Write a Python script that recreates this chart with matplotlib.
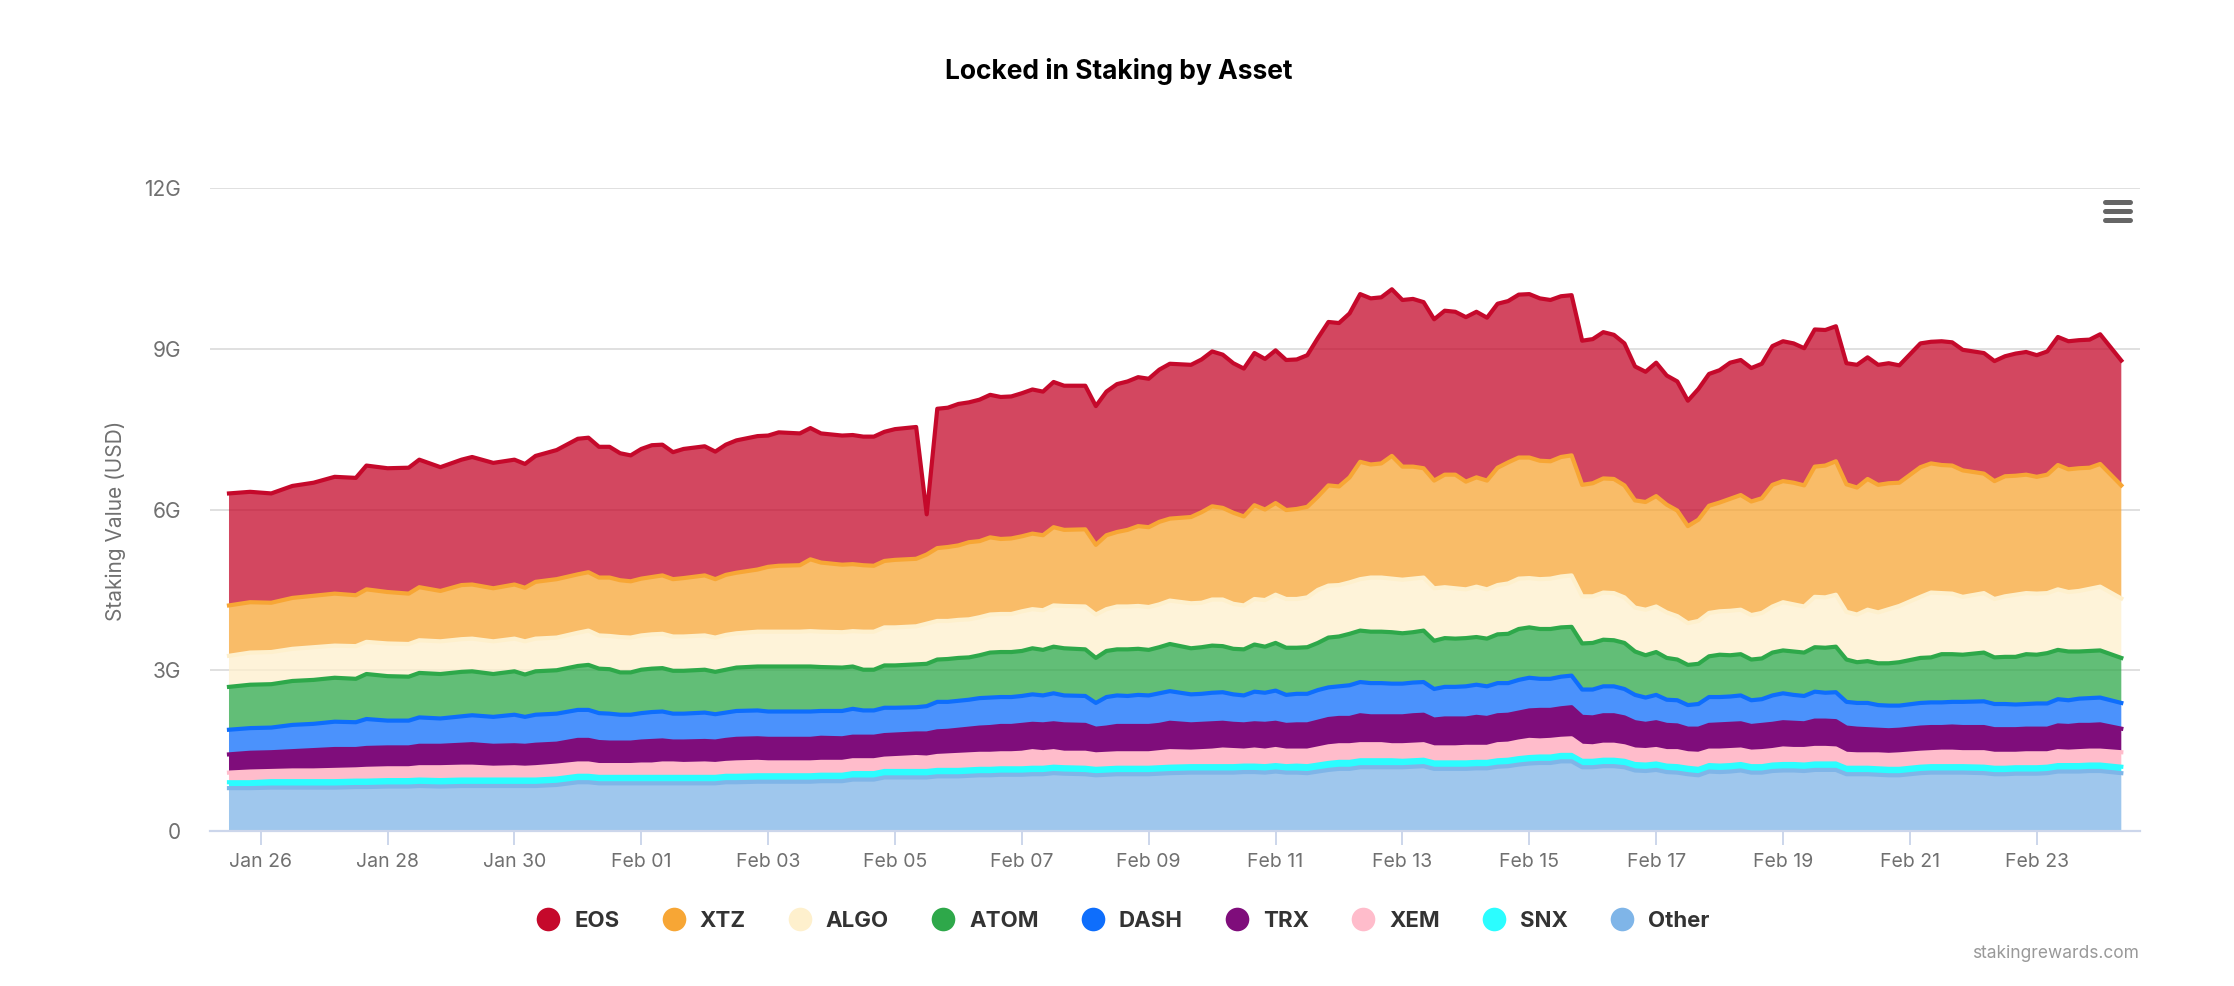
import numpy as np
import matplotlib
matplotlib.use("Agg")
import matplotlib.pyplot as plt
import matplotlib.dates as mdates
from matplotlib.lines import Line2D
from matplotlib.ticker import FixedLocator
from datetime import datetime, timedelta

plt.rcParams['font.family'] = ['Inter', 'DejaVu Sans']

start = datetime(2020, 1, 25, 12)
# sample positions, counted in 4-hour steps from the start
steps = [0,2,4,6,8,10,12,13,15,17,
 18,20,22,23,25,27,28,29,31,33,
 34,35,36,37,38,39,40,41,42,43,
 45,46,47,48,50,51,52,54,55,56,
 58,59,60,61,62,63,65,66,67,68,
 69,70,71,72,73,74,75,76,77,78,
 79,81,82,83,84,85,86,87,88,89,
 91,92,93,94,95,96,97,98,99,100,
 101,102,103,104,105,106,107,108,109,110,
 111,112,113,114,115,116,117,118,119,120,
 121,122,123,124,125,126,127,128,129,130,
 131,132,133,134,135,136,137,138,139,140,
 141,142,143,144,145,146,147,148,149,150,
 151,152,153,154,155,156,157,158,160,161,
 162,163,164,166,167,168,169,170,171,172,
 173,174,175,176,177,179]

# values in billions of USD
other = [.80,.80,.81,.81,.81,.81,.82,.82,.83,.83,
 .84,.83,.84,.84,.84,.84,.84,.84,.86,.91,
 .91,.89,.89,.89,.89,.89,.89,.89,.89,.89,
 .89,.89,.91,.91,.92,.92,.92,.92,.92,.93,
 .93,.96,.96,.96,1.00,1.00,1.00,1.00,1.02,1.02,
 1.02,1.03,1.04,1.04,1.05,1.05,1.05,1.06,1.06,1.08,
 1.07,1.06,1.04,1.05,1.06,1.06,1.06,1.06,1.07,1.08,
 1.09,1.09,1.09,1.09,1.09,1.10,1.10,1.09,1.11,1.09,
 1.09,1.08,1.11,1.14,1.16,1.16,1.19,1.19,1.19,1.19,
 1.19,1.20,1.21,1.16,1.16,1.16,1.16,1.17,1.17,1.20,
 1.21,1.24,1.26,1.27,1.27,1.30,1.30,1.19,1.19,1.21,
 1.21,1.19,1.13,1.12,1.14,1.10,1.09,1.06,1.04,1.11,
 1.10,1.11,1.13,1.09,1.09,1.12,1.13,1.13,1.12,1.14,
 1.14,1.14,1.06,1.06,1.06,1.05,1.04,1.04,1.08,1.09,
 1.09,1.09,1.09,1.08,1.06,1.06,1.07,1.07,1.07,1.08,
 1.11,1.11,1.11,1.12,1.12,1.08]

snx = [.11,.11,.12,.12,.12,.12,.12,.12,.12,.12,
 .12,.12,.12,.12,.12,.12,.12,.12,.12,.12,
 .12,.12,.12,.12,.12,.12,.12,.12,.12,.12,
 .12,.12,.12,.12,.12,.12,.12,.12,.12,.12,
 .12,.12,.12,.12,.12,.12,.12,.12,.12,.12,
 .12,.12,.12,.12,.12,.12,.12,.12,.12,.12,
 .12,.12,.12,.12,.12,.12,.12,.12,.12,.12,
 .12,.12,.12,.12,.12,.12,.12,.12,.12,.12,
 .13,.13,.13,.13,.13,.13,.13,.13,.13,.13,
 .12,.12,.12,.12,.12,.12,.12,.12,.12,.12,
 .12,.12,.12,.12,.12,.12,.12,.12,.12,.12,
 .12,.12,.12,.12,.12,.12,.12,.12,.12,.12,
 .12,.12,.12,.12,.12,.12,.12,.12,.12,.12,
 .12,.12,.12,.12,.12,.12,.12,.12,.12,.12,
 .12,.12,.12,.12,.12,.12,.12,.12,.12,.12,
 .12,.12,.12,.12,.12,.12]

xem = [.18,.20,.19,.20,.20,.21,.21,.22,.22,.22,
 .23,.24,.24,.24,.22,.23,.22,.23,.24,.23,
 .23,.22,.22,.22,.22,.23,.23,.25,.25,.24,
 .25,.24,.24,.25,.25,.24,.24,.24,.24,.24,
 .24,.24,.24,.24,.23,.24,.26,.25,.26,.27,
 .28,.28,.28,.28,.28,.28,.29,.31,.29,.29,
 .27,.28,.27,.27,.27,.27,.27,.27,.28,.29,
 .27,.28,.29,.31,.30,.28,.30,.29,.30,.29,
 .28,.29,.30,.31,.31,.31,.30,.30,.30,.28,
 .29,.29,.29,.28,.28,.28,.29,.28,.28,.30,
 .30,.31,.32,.30,.31,.30,.31,.28,.27,.28,
 .28,.27,.27,.27,.27,.27,.28,.27,.28,.27,
 .28,.28,.27,.27,.28,.27,.29,.28,.29,.29,
 .29,.28,.26,.25,.25,.26,.26,.27,.26,.26,
 .27,.27,.26,.27,.26,.26,.25,.26,.26,.25,
 .26,.25,.26,.26,.26,.27]

trx = [.34,.35,.35,.36,.38,.39,.38,.39,.39,.39,
 .40,.40,.41,.42,.41,.41,.41,.42,.41,.44,
 .44,.43,.42,.42,.42,.43,.44,.43,.41,.42,
 .42,.42,.43,.44,.44,.44,.44,.44,.44,.45,
 .44,.44,.44,.44,.44,.44,.44,.45,.46,.46,
 .47,.48,.49,.50,.51,.51,.52,.51,.52,.52,
 .53,.52,.48,.49,.51,.51,.51,.51,.51,.53,
 .51,.51,.51,.50,.49,.49,.49,.50,.49,.48,
 .49,.49,.50,.51,.51,.51,.54,.52,.52,.54,
 .54,.55,.55,.52,.54,.54,.53,.56,.54,.54,
 .54,.54,.55,.57,.56,.57,.58,.54,.54,.55,
 .55,.54,.51,.49,.50,.49,.48,.46,.47,.48,
 .49,.49,.49,.48,.49,.49,.49,.49,.48,.51,
 .51,.51,.49,.48,.47,.46,.46,.46,.47,.47,
 .46,.47,.47,.47,.46,.46,.46,.46,.46,.46,
 .48,.48,.49,.48,.49,.44]

dash = [.46,.46,.46,.49,.49,.51,.50,.54,.50,.50,
 .53,.51,.53,.54,.54,.57,.54,.56,.56,.56,
 .56,.54,.54,.52,.52,.53,.54,.54,.52,.52,
 .53,.51,.51,.52,.52,.51,.51,.51,.51,.50,
 .51,.52,.49,.49,.51,.50,.49,.51,.55,.54,
 .54,.54,.55,.55,.54,.54,.54,.55,.54,.56,
 .54,.54,.48,.57,.57,.56,.58,.57,.59,.59,
 .56,.56,.57,.57,.55,.54,.59,.58,.60,.56,
 .57,.57,.59,.59,.59,.61,.62,.62,.62,.61,
 .61,.61,.61,.57,.59,.59,.60,.60,.59,.60,
 .59,.61,.61,.58,.58,.59,.59,.51,.52,.54,
 .54,.53,.51,.49,.51,.47,.47,.44,.46,.52,
 .51,.51,.52,.48,.48,.53,.54,.52,.51,.54,
 .52,.54,.48,.48,.49,.46,.46,.45,.46,.46,
 .46,.46,.47,.48,.47,.47,.46,.46,.47,.47,
 .49,.48,.49,.50,.50,.48]

atom = [.80,.81,.81,.82,.82,.82,.81,.84,.83,.82,
 .83,.83,.83,.82,.80,.81,.79,.81,.81,.82,
 .84,.83,.83,.79,.79,.81,.81,.81,.80,.80,
 .80,.79,.80,.81,.82,.84,.84,.84,.84,.82,
 .81,.79,.76,.76,.79,.79,.80,.79,.79,.80,
 .80,.79,.80,.84,.84,.84,.84,.86,.85,.87,
 .88,.87,.84,.86,.86,.87,.86,.85,.86,.88,
 .86,.87,.88,.86,.85,.86,.88,.86,.89,.88,
 .86,.87,.88,.93,.93,.96,.96,.96,.96,.96,
 .94,.94,.96,.90,.91,.90,.90,.89,.89,.91,
 .92,.95,.94,.93,.93,.92,.91,.86,.87,.87,
 .86,.86,.81,.79,.80,.78,.76,.75,.75,.76,
 .79,.77,.77,.76,.76,.80,.80,.81,.81,.83,
 .84,.85,.79,.76,.78,.78,.79,.81,.84,.84,
 .90,.89,.88,.91,.87,.88,.89,.93,.91,.94,
 .92,.91,.88,.88,.88,.84]

algo = [.58,.60,.60,.60,.61,.60,.61,.60,.61,.61,
 .61,.61,.61,.61,.61,.61,.62,.61,.61,.62,
 .64,.62,.62,.66,.65,.64,.64,.64,.64,.64,
 .64,.64,.65,.64,.65,.65,.65,.65,.66,.66,
 .66,.66,.71,.71,.71,.71,.71,.75,.72,.71,
 .71,.71,.71,.71,.71,.71,.74,.73,.74,.77,
 .79,.80,.81,.78,.80,.80,.80,.80,.80,.81,
 .84,.83,.86,.87,.84,.82,.85,.87,.90,.91,
 .91,.93,.99,.97,.96,.96,.96,1.01,1.01,1.00,
 1.00,1.00,.99,.98,.95,.94,.91,.94,.92,.92,
 .94,.94,.92,.93,.94,.95,.96,.88,.87,.88,
 .88,.85,.82,.85,.85,.85,.81,.78,.80,.81,
 .81,.83,.83,.83,.85,.86,.90,.88,.86,.94,
 .94,.97,.89,.89,.96,.95,1.01,1.05,1.14,1.21,
 1.14,1.13,1.08,1.11,1.09,1.13,1.16,1.14,1.14,1.12,
 1.13,1.11,1.13,1.16,1.19,1.11]

xtz = [.94,.94,.92,.95,.96,.97,.95,.98,.96,.94,
 .99,.94,1.01,1.01,.99,1.01,1.00,1.06,1.09,1.09,
 1.09,1.08,1.09,1.06,1.05,1.06,1.07,1.09,1.07,1.09,
 1.12,1.09,1.12,1.13,1.16,1.21,1.23,1.24,1.34,1.29,
 1.26,1.25,1.24,1.23,1.24,1.26,1.26,1.29,1.36,1.38,
 1.39,1.44,1.42,1.44,1.40,1.41,1.40,1.41,1.40,1.46,
 1.42,1.44,1.30,1.38,1.39,1.43,1.49,1.49,1.54,1.53,
 1.61,1.69,1.74,1.71,1.70,1.66,1.75,1.69,1.71,1.66,
 1.68,1.69,1.74,1.87,1.84,1.96,2.19,2.11,2.13,2.29,
 2.11,2.09,2.04,2.01,2.10,2.12,2.01,2.04,2.03,2.19,
 2.26,2.26,2.25,2.21,2.19,2.23,2.24,2.08,2.11,2.13,
 2.13,2.09,2.00,2.01,2.06,2.01,1.97,1.81,1.89,2.00,
 2.03,2.09,2.14,2.12,2.14,2.27,2.26,2.27,2.26,2.43,
 2.46,2.49,2.38,2.37,2.44,2.38,2.35,2.30,2.42,2.41,
 2.39,2.39,2.36,2.23,2.20,2.24,2.22,2.21,2.18,2.21,
 2.32,2.29,2.29,2.26,2.29,2.11]

eos = [2.09,2.06,2.04,2.09,2.11,2.18,2.19,2.31,2.31,2.35,
 2.38,2.31,2.34,2.38,2.34,2.33,2.31,2.35,2.41,2.53,
 2.51,2.44,2.44,2.37,2.35,2.42,2.46,2.44,2.37,2.41,
 2.41,2.38,2.43,2.47,2.49,2.45,2.49,2.46,2.45,2.41,
 2.41,2.41,2.40,2.41,2.41,2.44,2.46,.75,2.60,2.60,
 2.64,2.61,2.64,2.66,2.65,2.65,2.67,2.69,2.68,2.71,
 2.69,2.68,2.59,2.68,2.76,2.77,2.78,2.77,2.84,2.89,
 2.84,2.85,2.89,2.86,2.79,2.76,2.84,2.81,2.85,2.80,
 2.79,2.83,2.96,3.05,3.05,3.06,3.13,3.10,3.10,3.11,
 3.11,3.13,3.10,3.01,3.06,3.04,3.07,3.09,3.04,3.06,
 3.01,3.04,3.05,3.03,3.01,3.00,2.99,2.69,2.69,2.73,
 2.69,2.65,2.50,2.43,2.49,2.41,2.41,2.34,2.44,2.46,
 2.47,2.54,2.52,2.49,2.51,2.59,2.61,2.60,2.56,2.56,
 2.53,2.52,2.26,2.29,2.27,2.24,2.24,2.19,2.31,2.27,
 2.31,2.30,2.25,2.25,2.24,2.24,2.28,2.29,2.27,2.30,
 2.39,2.39,2.39,2.39,2.42,2.33]

legend_names = ['EOS', 'XTZ', 'ALGO', 'ATOM', 'DASH', 'TRX', 'XEM', 'SNX', 'Other']
colors = ['#c5092b', '#f7a635', '#fef0cd', '#2ea84a', '#0e6efc', '#7f0d7b', '#ffbccb', '#2bfdff', '#7fb5e8']
alphas = [.75, .75, .75, .75, .75, 1, 1, 1, .75]
y_ticks = [0, 3, 6, 9, 12]
y_labels = ['0', '3G', '6G', '9G', '12G']
x_tick_days = ['2020-01-26', '2020-01-28', '2020-01-30', '2020-02-01', '2020-02-03', '2020-02-05', '2020-02-07',
               '2020-02-09', '2020-02-11', '2020-02-13', '2020-02-15', '2020-02-17', '2020-02-19', '2020-02-21', '2020-02-23']

W, H = 2234, 986
fig = plt.figure(figsize=(W / 100, H / 100), dpi=100, facecolor='white')
ax = fig.add_axes([210 / W, 1 - 831 / H, (2140 - 210) / W, (831 - 188) / H])

dates = [start + timedelta(hours=4 * s) for s in steps]
stack = [other, snx, xem, trx, dash, atom, algo, xtz, eos]
polys = ax.stackplot(dates, stack, colors=colors[::-1], linewidth=0, zorder=2)
for p, a in zip(polys, alphas[::-1]):
    p.set_alpha(a)
tops = np.cumsum(np.array(stack), axis=0)
for i in range(len(stack) - 1, -1, -1):
    ax.plot(dates, tops[i], color=colors[::-1][i], lw=3.0, solid_joinstyle='round', zorder=3, clip_on=False)

t0 = mdates.date2num(datetime(2020, 1, 26))
ax.set_xlim(t0 - 50.7 / 63.43, t0 + (2140 - 260.7) / 63.43)
ax.set_ylim(0, 12)
ax.set_yticks(y_ticks)
ax.set_yticklabels(y_labels, color='#707070', fontsize=15)
ticks = [mdates.date2num(datetime.strptime(d, '%Y-%m-%d')) for d in x_tick_days]
ax.xaxis.set_major_locator(FixedLocator(ticks))
ax.xaxis.set_major_formatter(mdates.DateFormatter('%b %d'))
ax.tick_params(axis='x', length=10, width=1.4, color='#ccd6eb', labelcolor='#707070', labelsize=14, pad=6)
ax.tick_params(axis='y', length=0, pad=21)
ax.grid(axis='y', color='#e0e0e0', lw=1.4, zorder=0)
ax.set_axisbelow(True)
for s in ['top', 'left', 'right']:
    ax.spines[s].set_visible(False)
ax.spines['bottom'].set_color('#ccd6eb')
ax.spines['bottom'].set_linewidth(1.6)
ax.spines['bottom'].set_zorder(5)

fig.text(1119 / W, 1 - 71.5 / H, 'Locked in Staking by Asset', ha='center', va='center', fontsize=19, fontweight='bold', color='black')
fig.text(116 / W, 1 - 521 / H, 'Staking Value (USD)', rotation=90, ha='center', va='center', fontsize=15, color='#707070')
fig.text(2138.5 / W, 1 - 953 / H, 'stakingrewards.com', ha='right', va='center', fontsize=12.5, color='#999999')

handles = [Line2D([], [], ls='', marker='o', ms=17, color=c, markeredgewidth=0) for c in colors]
leg = fig.legend(handles, legend_names, ncol=9, loc='center', bbox_to_anchor=(1120 / W, 1 - 921 / H), frameon=False,
                 handletextpad=0.36, columnspacing=1.65, handlelength=1.6,
                 prop={'size': 16, 'weight': 'bold'}, labelcolor='#333333')

for yy in (201.5, 210.5, 219.5):
    fig.add_artist(Line2D([2105 / W, 2130 / W], [1 - yy / H] * 2, color='#666666', lw=3.6, solid_capstyle='round'))

fig.savefig('out.png', dpi=100, facecolor='white')
